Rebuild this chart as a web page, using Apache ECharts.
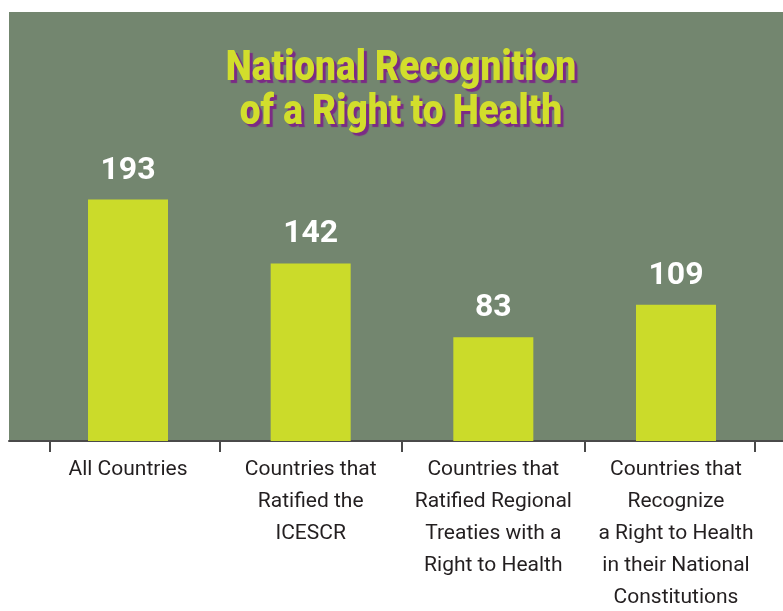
<!DOCTYPE html>
<html>
<head>
<meta charset="utf-8">
<title>National Recognition of a Right to Health</title>
<script src="https://cdn.jsdelivr.net/npm/echarts@6/dist/echarts.min.js"></script>
<style>
  html, body { margin: 0; padding: 0; background: #fff; }
  #chart { width: 783px; height: 611px; }
</style>
</head>
<body>
<div id="chart"></div>
<script>
  // data
  var titleLines = ['National Recognition', 'of a Right to Health'];
  var categories = [
    'All Countries',
    'Countries that\nRatified the\nICESCR',
    'Countries that\nRatified Regional\nTreaties with a\nRight to Health',
    'Countries that\nRecognize\na Right to Health\nin their National\nConstitutions'
  ];
  var countries = [193, 142, 83, 109];
  // tick marks sit between the bars (slightly off at both ends, as in the original)
  var tickSlots = [-0.43, 0.5, 1.5, 2.5, 3.43];

  var font = 'Roboto, "Liberation Sans", sans-serif';

  var chart = echarts.init(document.getElementById('chart'), null, { renderer: 'canvas' });

  chart.setOption({
    animation: false,
    backgroundColor: '#ffffff',
    grid: {
      left: 9,
      right: 0,
      top: 12,
      bottom: 170,
      containLabel: false,
      outerBoundsMode: 'none',
      show: true,
      backgroundColor: '#73866f',
      borderWidth: 0
    },
    // title drawn as text squeezed sideways, the original uses a condensed face
    graphic: [{
      type: 'text',
      x: 401,
      y: 47,
      scaleX: 0.86,
      z: 10,
      style: {
        text: titleLines.join('\n'),
        font: '900 43px Roboto, "Liberation Sans", Arial, sans-serif',
        lineHeight: 44,
        textAlign: 'center',
        textVerticalAlign: 'top',
        fill: '#d2de2c',
        textShadowColor: '#7b2a86',
        textShadowBlur: 1,
        textShadowOffsetX: 3,
        textShadowOffsetY: 3
      }
    }],
    xAxis: {
      type: 'value',
      min: -0.6515,
      max: 3.5858,
      splitLine: { show: false },
      axisLine: { show: true, lineStyle: { color: '#4a4a4a', width: 2 } },
      axisTick: {
        show: true,
        customValues: tickSlots,
        length: 11,
        lineStyle: { color: '#4a4a4a', width: 2 }
      },
      axisLabel: {
        customValues: categories.map(function (c, i) { return i; }),
        formatter: function (v) { return categories[Math.round(v)]; },
        hideOverlap: false,
        showMinLabel: true,
        showMaxLabel: true,
        margin: 13,
        fontFamily: font,
        fontSize: 21,
        lineHeight: 32,
        color: '#231f20',
        align: 'center'
      }
    },
    yAxis: {
      type: 'value',
      min: 0,
      max: 343,
      show: false,
      splitLine: { show: false }
    },
    series: [{
      type: 'bar',
      barWidth: 80,
      data: countries.map(function (v, i) { return [i, v]; }),
      itemStyle: { color: '#cbdb2a' },
      label: {
        show: true,
        position: 'top',
        distance: 13,
        formatter: function (p) { return p.value[1]; },
        fontFamily: font,
        fontWeight: 'bold',
        fontSize: 32,
        lineHeight: 32,
        color: '#ffffff'
      }
    }]
  });
</script>
</body>
</html>
